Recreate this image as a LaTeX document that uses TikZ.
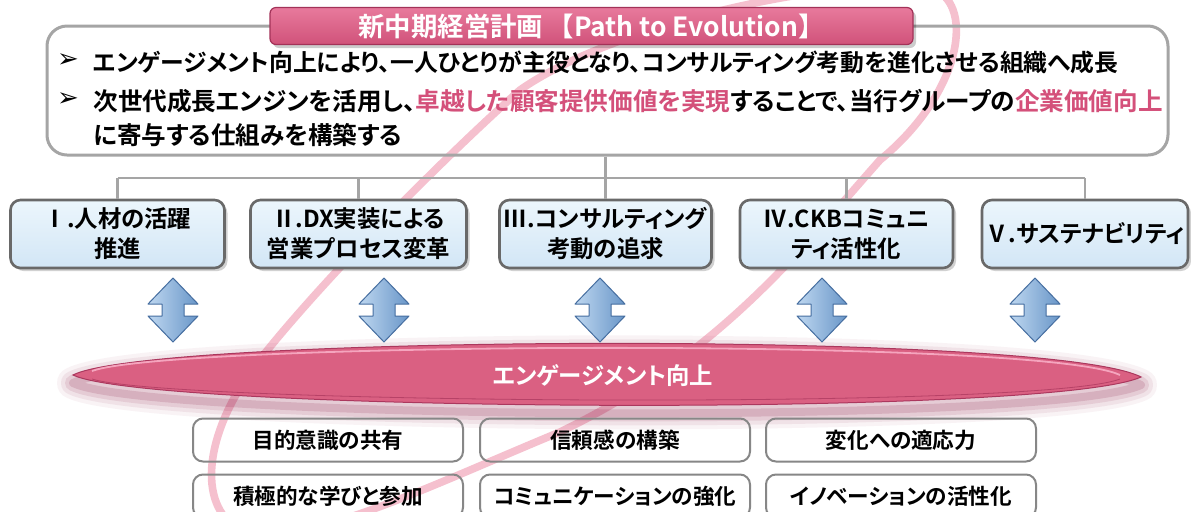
\documentclass[tikz,border=0pt]{standalone}
\usepackage{fontspec}
\setmainfont{Noto Sans CJK JP}[BoldFont={Noto Sans CJK JP Bold},RawFeature=+palt]
\newfontfamily\fullfont{Noto Sans CJK JP Bold}
\newfontfamily\symfont{DejaVu Sans}
\usetikzlibrary{calc}
\definecolor{pk}{RGB}{218,96,130}
\definecolor{pktop}{RGB}{232,122,156}
\definecolor{pkbot}{RGB}{208,82,122}
\definecolor{pktxt}{RGB}{212,80,122}
\definecolor{pkdark}{RGB}{140,30,70}
\definecolor{pkhi}{RGB}{245,165,190}
\definecolor{pkloop}{RGB}{245,192,206}
\definecolor{boxgray}{RGB}{165,165,165}
\definecolor{lowgray}{RGB}{135,135,135}
\definecolor{bluetop}{RGB}{236,246,252}
\definecolor{bluebot}{RGB}{210,230,246}
\definecolor{bluebord}{RGB}{105,105,105}
\definecolor{arrA}{RGB}{190,215,240}
\definecolor{arrB}{RGB}{105,150,200}
\definecolor{arrD}{RGB}{70,110,160}
\begin{document}
\begin{tikzpicture}[x=0.5pt,y=-0.5pt]
\tikzset{
  mainbox/.style={draw=boxgray, line width=1.5pt, rounded corners=10pt, minimum width=560.5pt, minimum height=64.5pt, inner sep=0pt},
  titlebar/.style={draw=pkdark!70!pk, line width=0.6pt, rounded corners=3pt, top color=pktop, bottom color=pkbot, minimum width=321.5pt, minimum height=18.5pt, inner sep=0pt, text=white, font=\fullfont\fontsize{13.2}{14}\selectfont},
  bodytext/.style={anchor=west, inner sep=0pt, font=\fontsize{12.3}{15}\selectfont\bfseries},
  bullet/.style={inner sep=0pt, font=\symfont\fontsize{13}{14}\selectfont},
  tree/.style={draw=boxgray, line width=1.4pt},
  bluebox/.style={draw=bluebord, line width=1.3pt, rounded corners=5pt, top color=bluetop, bottom color=bluebot, minimum height=34pt, align=center, inner sep=0pt, font=\fontsize{11.7}{15}\selectfont\bfseries},
  boxshadow/.style={fill=black, opacity=0.18, rounded corners=5pt},
  dblarrow/.style={draw=arrD, line width=0.5pt, line join=round, left color=arrA, right color=arrB},
  lowbox/.style={draw=lowgray, line width=1pt, rounded corners=5pt, minimum width=135pt, minimum height=21.5pt, inner sep=0pt, font=\fontsize{10.8}{12}\selectfont\bfseries},
  engtext/.style={inner sep=0pt, text=white, font=\fontsize{11.7}{13}\selectfont\bfseries}
}
\useasboundingbox (0,0) rectangle (1191,511);
\fill[white] (0,0) rectangle (1191,511);

% decorative loop
\draw[pkloop, line width=3.8pt]
  (930,-12) .. controls (975,0) and (965,90) .. (880,160)
  .. controls (800,250) and (720,355) .. (560,432)
  .. controls (420,490) and (300,550) .. (240,530)
  .. controls (195,505) and (205,430) .. (258,362)
  .. controls (310,295) and (425,175) .. (520,90)
  .. controls (620,20) and (850,-25) .. (930,-12) -- cycle;

% main box and title
\node[mainbox] (main) at (607.5,90.5) {};
\fill[black, opacity=0.2, rounded corners=3pt] (273,11) rectangle (916,48);
\node[titlebar] (title) at (591.5,26) {新中期経営計画\,【Path to Evolution】};

\node[bullet] (bu1) at (68,61) {➢};
\node[bodytext, font=\fontsize{11.9}{15}\selectfont\bfseries] (l1) at (93,62) {エンゲージメント向上により、一人ひとりが主役となり、コンサルティング考動を進化させる組織へ成長};
\node[bullet] (bu2) at (68,100) {➢};
\node[bodytext] (l2) at (93,101) {次世代成長エンジンを活用し、\textcolor{pktxt}{卓越した顧客提供価値を実現}することで、当行グループの\textcolor{pktxt}{企業価値向上}};
\node[bodytext] (l3) at (93,135) {に寄与する仕組みを構築する};

% five pillars
\foreach \n/\cx/\w in {b1/117.5/214, b2/358.5/216, b3/605.5/212, b4/846.5/213, b5/1085/206}{
  \fill[boxshadow] (\cx-\w/2+3,203) rectangle (\cx+\w/2+3,271);
}
\node[bluebox, minimum width=107pt] (b1) at (117.5,234) {Ⅰ.人材の活躍\\推進};
\node[bluebox, minimum width=108pt] (b2) at (358.5,234) {Ⅱ.DX実装による\\営業プロセス変革};
\node[bluebox, minimum width=106pt] (b3) at (605.5,234) {Ⅲ.コンサルティング\\考動の追求};
\node[bluebox, minimum width=106.5pt] (b4) at (846.5,234) {Ⅳ.CKBコミュニ\\ティ活性化};
\node[bluebox, minimum width=103pt] (b5) at (1085,234) {Ⅴ.サステナビリティ};

\coordinate (hub) at (605.5,178);
\draw[tree] (main.south -| hub) -- (hub);
\draw[tree] (b1.north |- hub) -- (b5.north |- hub);
\foreach \b in {b1,b2,b3,b4,b5}{ \draw[tree] (\b.north |- hub) -- (\b.north); }

% engagement lens
\def\lenspath{(73,375) .. controls (150,335) and (1050,330) .. (1141,377) .. controls (1050,418) and (150,412) .. (73,375) -- cycle}
\begin{scope}[yshift=-4pt]
\foreach \lw/\op in {16/0.05,12/0.08,8/0.11,4/0.16}{
  \draw[pkdark, line width=\lw pt, opacity=\op, line join=round] \lenspath;
}
\end{scope}
\fill[pk] \lenspath;
\draw[pkdark!60!pk, line width=0.5pt] \lenspath;
\draw[pkhi, line width=0.9pt] (92,371) .. controls (170,342) and (1040,337) .. (1120,375);
\draw[pkdark!45!pk, line width=0.4pt] (92,379) .. controls (170,404) and (1040,410) .. (1120,379);
\node[engtext] (eng) at (603,376) {エンゲージメント向上};

% double arrows
\foreach \cx in {173,384,600,822,1035}{
  \draw[dblarrow] (\cx,278) -- (\cx+25,304) -- (\cx+11,304) -- (\cx+11,316) -- (\cx+25,316)
   -- (\cx,342) -- (\cx-25,316) -- (\cx-11,316) -- (\cx-11,304) -- (\cx-25,304) -- cycle;
}

% lower boxes
\node[lowbox] (c11) at (328,440) {目的意識の共有};
\node[lowbox] (c12) at (615,440) {信頼感の構築};
\node[lowbox] (c13) at (901,440) {変化への適応力};
\node[lowbox] (c21) at (328,496) {積極的な学びと参加};
\node[lowbox] (c22) at (615,496) {コミュニケーションの強化};
\node[lowbox] (c23) at (901,496) {イノベーションの活性化};
\end{tikzpicture}
\end{document}
